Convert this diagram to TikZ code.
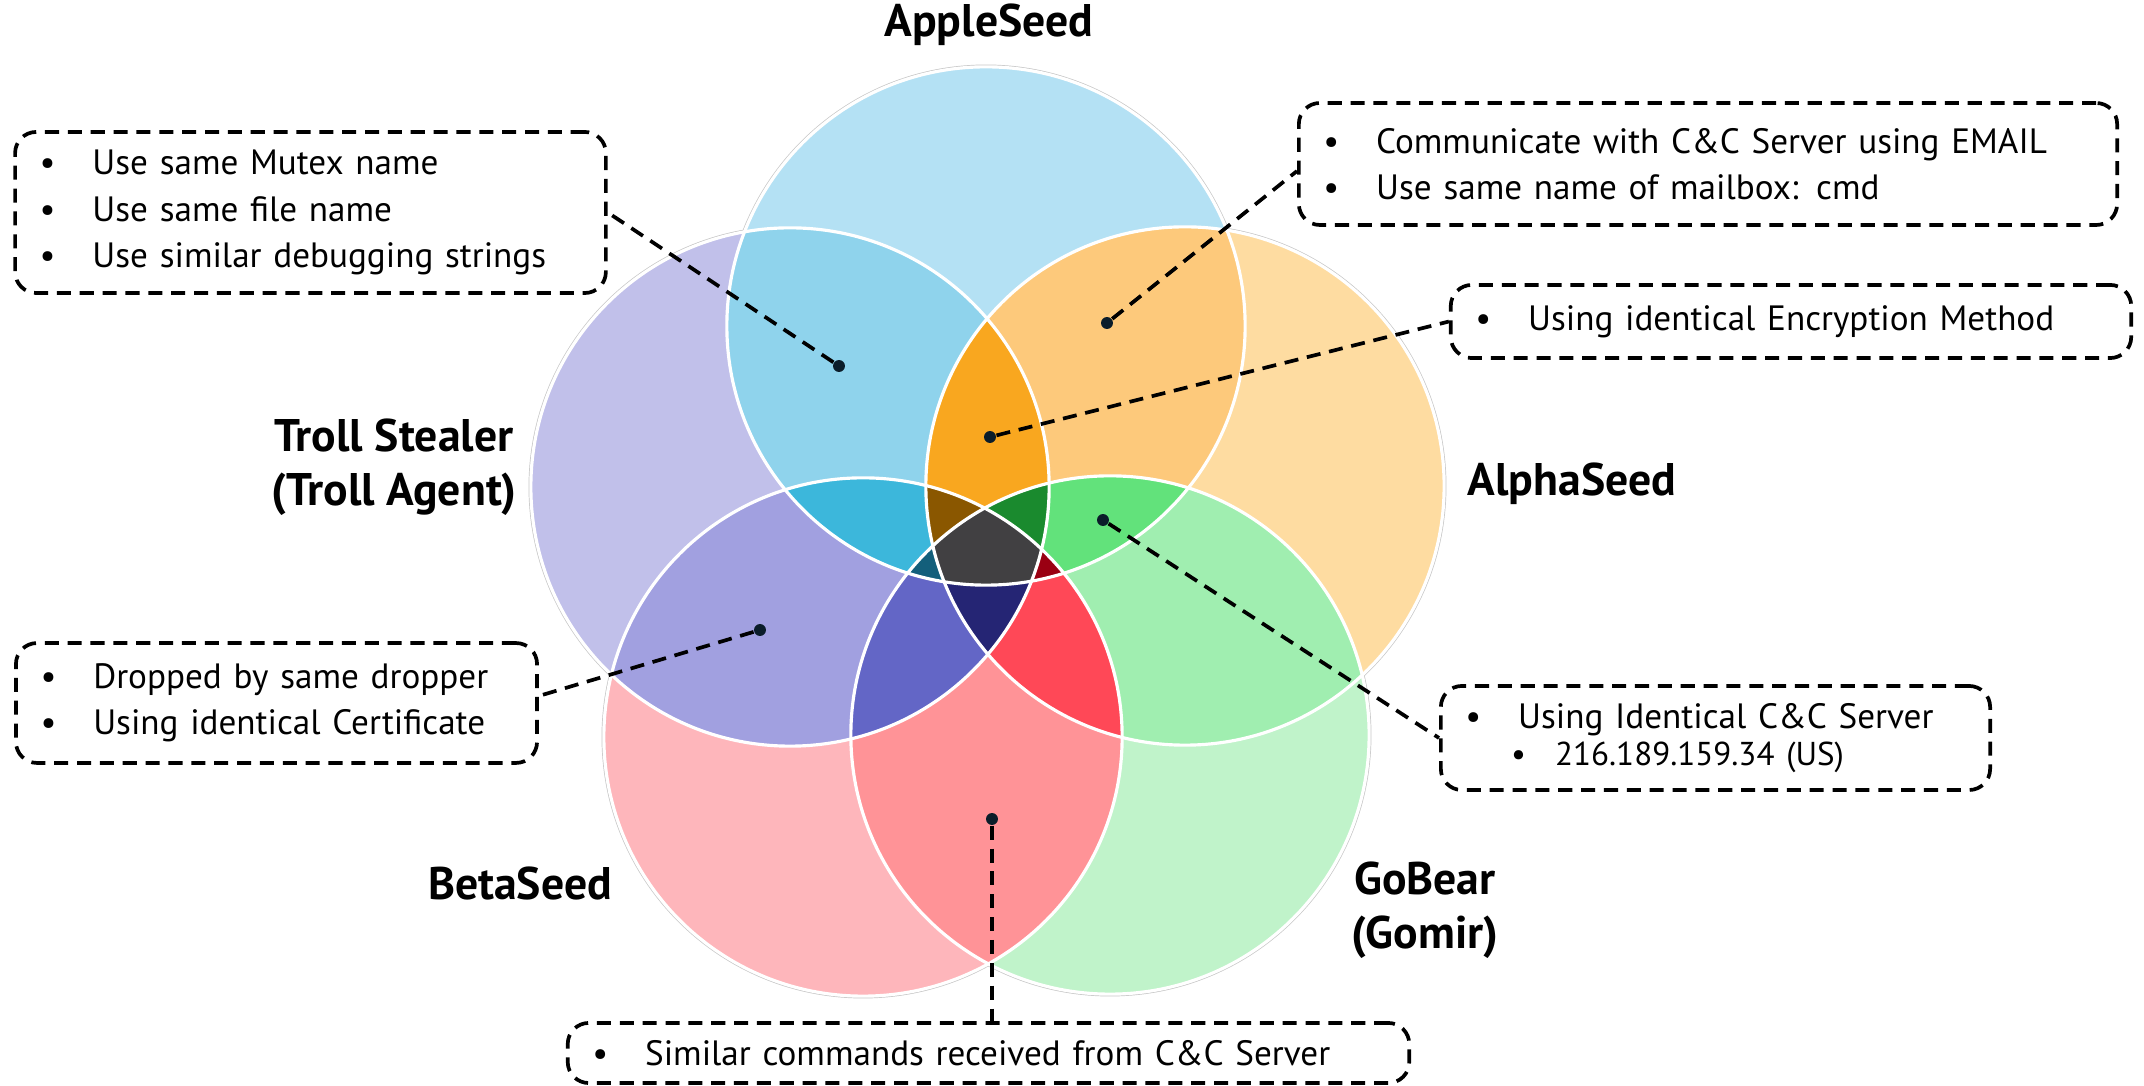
\documentclass[tikz,border=0pt]{standalone}
\usepackage{fontspec}
\setmainfont{PT Sans}
\usetikzlibrary{positioning}

\definecolor{inA}{HTML}{B4E1F4}
\definecolor{inT}{HTML}{C1C0EA}
\definecolor{inAl}{HTML}{FEDCA1}
\definecolor{inB}{HTML}{FEB6BB}
\definecolor{inG}{HTML}{C0F3CA}
\definecolor{inAT}{HTML}{8FD3EC}
\definecolor{inAAl}{HTML}{FDC97B}
\definecolor{inTB}{HTML}{A1A0E0}
\definecolor{inAlG}{HTML}{A0EEB0}
\definecolor{inBG}{HTML}{FF9397}
\definecolor{inATAl}{HTML}{F9A71F}
\definecolor{inATB}{HTML}{3CB7DB}
\definecolor{inAAlG}{HTML}{62E27B}
\definecolor{inTBG}{HTML}{6366C6}
\definecolor{inAlBG}{HTML}{FF4857}
\definecolor{inATAlB}{HTML}{8A5700}
\definecolor{inATAlG}{HTML}{1A8A2E}
\definecolor{inATBG}{HTML}{135F7B}
\definecolor{inAAlBG}{HTML}{9A0012}
\definecolor{inTAlBG}{HTML}{252574}
\definecolor{inAll}{HTML}{414042}
\definecolor{dotc}{HTML}{0B1D2A}

\def\rr{2.59cm}
\newcommand{\ring}[1]{(#1) circle[radius=\rr]}
\newcommand{\itm}[1]{\mbox{\makebox[15pt][l]{\textbullet}#1}}

\tikzset{
  notebox/.style={draw=black,dash pattern=on 4pt off 2.5pt,line width=1.05pt,rounded corners=6pt,align=left,inner xsep=7pt,inner ysep=0pt,font=\fontsize{10}{13.2}\selectfont},
  setname/.style={font=\fontsize{13}{15.2}\selectfont\bfseries,align=center,inner sep=0pt},
  hotspot/.style={circle,fill=dotc,inner sep=0pt,minimum size=3.4pt},
  leader/.style={dash pattern=on 4pt off 2.5pt,line width=1.05pt},
}

\begin{document}
\begin{tikzpicture}[x=0.01cm,y=-0.01cm]
\useasboundingbox (0,0) rectangle (2144,1086);

% circle centres
\coordinate (oA) at (986,326);
\coordinate (oT) at (790,487);
\coordinate (oAl) at (1185,486);
\coordinate (oB) at (863,737);
\coordinate (oG) at (1110,735);

% thin grey rim under the fills
\foreach \c in {oA,oT,oAl,oB,oG}
  \draw[gray!45,line width=1.3pt] \ring{\c};

% one set
\fill[inA] \ring{oA};
\fill[inT] \ring{oT};
\fill[inAl] \ring{oAl};
\fill[inB] \ring{oB};
\fill[inG] \ring{oG};

% two sets
\begin{scope}\clip \ring{oA}; \fill[inAT] \ring{oT}; \end{scope}
\begin{scope}\clip \ring{oA}; \fill[inAAl] \ring{oAl}; \end{scope}
\begin{scope}\clip \ring{oT}; \fill[inTB] \ring{oB}; \end{scope}
\begin{scope}\clip \ring{oAl}; \fill[inAlG] \ring{oG}; \end{scope}
\begin{scope}\clip \ring{oB}; \fill[inBG] \ring{oG}; \end{scope}

% three sets
\begin{scope}\clip \ring{oA}; \clip \ring{oT}; \fill[inATAl] \ring{oAl}; \end{scope}
\begin{scope}\clip \ring{oA}; \clip \ring{oT}; \fill[inATB] \ring{oB}; \end{scope}
\begin{scope}\clip \ring{oA}; \clip \ring{oAl}; \fill[inAAlG] \ring{oG}; \end{scope}
\begin{scope}\clip \ring{oT}; \clip \ring{oB}; \fill[inTBG] \ring{oG}; \end{scope}
\begin{scope}\clip \ring{oAl}; \clip \ring{oB}; \fill[inAlBG] \ring{oG}; \end{scope}

% four sets
\begin{scope}\clip \ring{oA}; \clip \ring{oT}; \clip \ring{oAl}; \fill[inATAlB] \ring{oB}; \end{scope}
\begin{scope}\clip \ring{oA}; \clip \ring{oT}; \clip \ring{oAl}; \fill[inATAlG] \ring{oG}; \end{scope}
\begin{scope}\clip \ring{oA}; \clip \ring{oT}; \clip \ring{oB}; \fill[inATBG] \ring{oG}; \end{scope}
\begin{scope}\clip \ring{oA}; \clip \ring{oAl}; \clip \ring{oB}; \fill[inAAlBG] \ring{oG}; \end{scope}
\begin{scope}\clip \ring{oT}; \clip \ring{oAl}; \clip \ring{oB}; \fill[inTAlBG] \ring{oG}; \end{scope}

% all five
\begin{scope}\clip \ring{oA}; \clip \ring{oT}; \clip \ring{oAl}; \clip \ring{oB}; \fill[inAll] \ring{oG}; \end{scope}

% white borders
\foreach \c in {oA,oT,oAl,oB,oG}
  \draw[white,line width=0.9pt] \ring{\c};

% set names
\node[setname] (l_apple) at (989,25) {AppleSeed};
\node[setname] (l_troll) at (394,467) {Troll Stealer\\(Troll Agent)};
\node[setname] (l_alpha) at (1572,484) {AlphaSeed};
\node[setname] (l_beta) at (520,884) {BetaSeed};
\node[setname] (l_gobear) at (1425,910) {GoBear\\(Gomir)};

% notes
\node[notebox,text width=154pt,minimum height=45.8pt] (b_mutex) at (310.5,212.5) {\itm{Use same Mutex name}\\\itm{Use same file name}\\\itm{Use similar debugging strings}\\[-2pt]};
\node[notebox,text width=218.7pt,minimum height=34.7pt] (b_email) at (1708,164) {\itm{Communicate with C\&C Server using EMAIL}\\\itm{Use same name of mailbox: cmd}};
\node[notebox,text width=179.5pt,minimum height=20.8pt] (b_crypt) at (1791,321.5) {\itm{Using identical Encryption Method}};
\node[notebox,text width=134.2pt,minimum height=34.1pt] (b_drop) at (276.5,703) {\itm{Dropped by same dropper}\\\itm{Using identical Certificate}};
\node[notebox,text width=142.2pt,minimum height=29.6pt] (b_server) at (1715.5,738) {\itm{Using Identical C\&C Server}\\[-2.5pt]{\fontsize{9.4}{10}\selectfont\hspace{13pt}\mbox{\makebox[12.5pt][l]{\textbullet}216.189.159.34 (US)}}};
\node[notebox,text width=225.3pt,minimum height=17.1pt] (b_cmd) at (988.5,1053) {\itm{Similar commands received from C\&C Server}};

% hot spots
\node[hotspot] (d_mutex) at (839,366) {};
\node[hotspot] (d_email) at (1107,323) {};
\node[hotspot] (d_crypt) at (990,437) {};
\node[hotspot] (d_drop) at (760,630) {};
\node[hotspot] (d_server) at (1103,520) {};
\node[hotspot] (d_cmd) at (992,819) {};

% leaders
\draw[leader] (d_mutex) -- (b_mutex.east);
\draw[leader] (d_email) -- ([yshift=-2pt]b_email.west);
\draw[leader] (d_crypt) -- (b_crypt.west);
\draw[leader] (d_drop) -- ([yshift=2pt]b_drop.east);
\draw[leader] (d_server) -- (b_server.west);
\draw[leader] (d_cmd) -- (d_cmd |- b_cmd.north);
\end{tikzpicture}
\end{document}
